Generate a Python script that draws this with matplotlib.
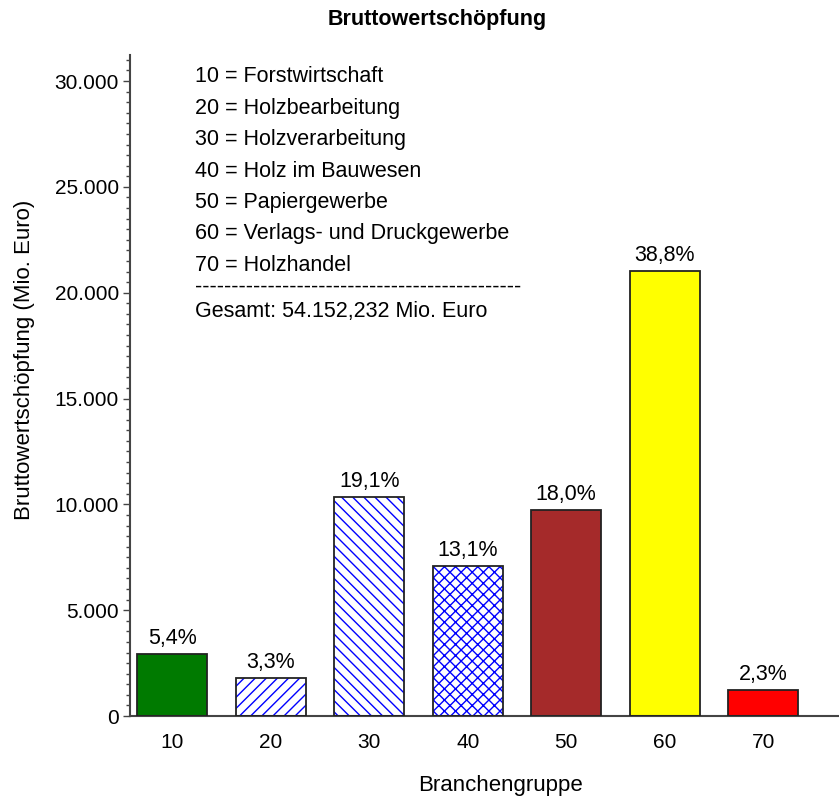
import matplotlib
matplotlib.use("Agg")
import matplotlib.pyplot as plt
from matplotlib.ticker import MultipleLocator, FuncFormatter

plt.rcParams["font.family"] = ["Liberation Sans", "DejaVu Sans"]

# ── data ───────────────────────────────────────────────────────────────────
groups   = ["10", "20", "30", "40", "50", "60", "70"]
values   = [2924, 1787, 10343, 7094, 9747, 21011, 1245]   # Mio. Euro
percents = ["5,4%", "3,3%", "19,1%", "13,1%", "18,0%", "38,8%", "2,3%"]
fills    = ["#007a00", "white", "white", "white", "#a52a2a", "#ffff00", "#ff0000"]
hatches  = [None, "///", "\\\\\\", "xxx", None, None, None]
legend_lines = [
    "10 = Forstwirtschaft",
    "20 = Holzbearbeitung",
    "30 = Holzverarbeitung",
    "40 = Holz im Bauwesen",
    "50 = Papiergewerbe",
    "60 = Verlags- und Druckgewerbe",
    "70 = Holzhandel",
]
total_line = "Gesamt: 54.152,232 Mio. Euro"

W, H = 839, 799
fig = plt.figure(figsize=(W / 100, H / 100), dpi=100)
ax = fig.add_axes([130 / W, 1 - 716 / H, (W - 130) / W, (716 - 55) / H])

x = list(range(len(groups)))
for xi, v, fc, h in zip(x, values, fills, hatches):
    if h:
        ax.bar(xi, v, width=0.71, color="white", edgecolor="#0000ff",
               hatch=h, linewidth=0, zorder=2)
    else:
        ax.bar(xi, v, width=0.71, color=fc, linewidth=0, zorder=2)
ax.bar(x, values, width=0.71, fill=False, edgecolor="#222222",
       linewidth=1.3, zorder=3)

for xi, v, p in zip(x, values, percents):
    ax.text(xi, v + 230, p, ha="center", va="bottom", fontsize=15.5)

ax.set_xlim(-0.43, 6.77)
ax.set_ylim(0, 31230)
ax.set_xticks(x)
ax.set_xticklabels(groups)
ax.yaxis.set_major_locator(MultipleLocator(5000))
ax.yaxis.set_minor_locator(MultipleLocator(500))
ax.yaxis.set_major_formatter(FuncFormatter(lambda v, _: f"{int(v):,}".replace(",", ".")))

for s in ["top", "right"]:
    ax.spines[s].set_visible(False)
for s in ["left", "bottom"]:
    ax.spines[s].set_color("#444444")
    ax.spines[s].set_linewidth(1.5)

ax.tick_params(axis="x", length=0, pad=12, labelsize=15)
ax.tick_params(axis="y", which="major", length=5, width=1, color="#444444",
               pad=3, labelsize=15)
ax.tick_params(axis="y", which="minor", length=3, width=1, color="#444444")

ax.set_xlabel("Branchengruppe", fontsize=16)
ax.set_ylabel("Bruttowertschöpfung (Mio. Euro)", fontsize=16)
ax.xaxis.set_label_coords(0.522, -0.089)
ax.yaxis.set_label_coords(-0.134, 0.539)

fig.text(437 / W, 1 - 20 / H, "Bruttowertschöpfung", ha="center", va="center",
         fontsize=15.5, fontweight="bold")

# text block inside the plot
y0, dy = 77, 31.4
for i, line in enumerate(legend_lines):
    fig.text(195 / W, 1 - (y0 + i * dy) / H, line, ha="left", va="center", fontsize=15.5)
fig.text(195 / W, 1 - 287 / H, "-" * 45, ha="left", va="center", fontsize=15.5)
fig.text(195 / W, 1 - 311 / H, total_line, ha="left", va="center", fontsize=15.5)

fig.savefig("out.png", dpi=100)
